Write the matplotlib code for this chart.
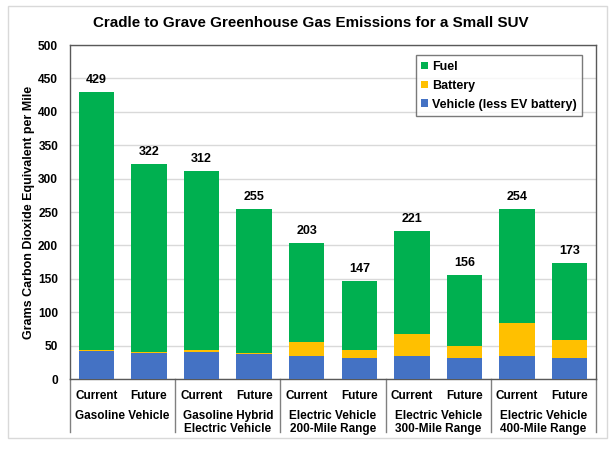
import matplotlib.pyplot as plt
import matplotlib.transforms as mtransforms
from matplotlib.patches import Rectangle

plt.rcParams['font.family'] = ['Liberation Sans', 'DejaVu Sans']
plt.rcParams['font.weight'] = 'bold'

scenarios = ['Current', 'Future'] * 5
groups = ['Gasoline Vehicle', 'Gasoline Hybrid\nElectric Vehicle',
          'Electric Vehicle\n200-Mile Range', 'Electric Vehicle\n300-Mile Range',
          'Electric Vehicle\n400-Mile Range']
vehicle = [42, 39, 41, 37, 34, 31, 34, 31, 34, 31]
battery = [1, 1, 2, 2, 22, 12, 33, 19, 50, 27]
totals = [429, 322, 312, 255, 203, 147, 221, 156, 254, 173]
fuel = [t - v - b for t, v, b in zip(totals, vehicle, battery)]

c_fuel = '#00B050'
c_batt = '#FFC000'
c_veh = '#4472C4'

fig = plt.figure(figsize=(6.16, 4.53), dpi=100)
fig.patches.append(Rectangle((8 / 616, 1 - 438 / 453), 599 / 616, 432 / 453,
                             transform=fig.transFigure, fill=False,
                             edgecolor='#D9D9D9', linewidth=1))
ax = fig.add_axes([70 / 616, 1 - 379 / 453, 526 / 616, 334 / 453])

x = list(range(len(scenarios)))
w = 0.67
bottom2 = [v + b for v, b in zip(vehicle, battery)]
ax.bar(x, vehicle, w, color=c_veh, label='Vehicle (less EV battery)', zorder=3)
ax.bar(x, battery, w, bottom=vehicle, color=c_batt, label='Battery', zorder=3)
ax.bar(x, fuel, w, bottom=bottom2, color=c_fuel, label='Fuel', zorder=3)

for xi, t in zip(x, totals):
    ax.text(xi, t + 9, str(t), ha='center', va='bottom', fontsize=9, fontweight='bold')

ax.set_xlim(-0.5, len(x) - 0.5)
ax.set_ylim(0, 500)
ax.set_yticks(range(0, 501, 50))
ax.yaxis.grid(True, color='#D9D9D9', linewidth=1, zorder=0)
ax.set_axisbelow(True)
ax.tick_params(axis='y', length=0, labelsize=8.6, pad=8.5)
ax.set_xticks(x)
ax.set_xticklabels(scenarios, fontsize=8.5, fontweight='bold')
ax.tick_params(axis='x', length=0, pad=8)
for s in ax.spines.values():
    s.set_color('#595959')
    s.set_linewidth(1)

ax.set_ylabel('Grams Carbon Dioxide Equivalent per Mile', fontsize=9,
              fontweight='bold', labelpad=2)

trans = mtransforms.blended_transform_factory(ax.transData, ax.transAxes)
for k in range(6):
    xs = 2 * k - 0.5
    ax.plot([xs, xs], [0, -0.16], transform=trans, color='#808080',
            linewidth=1, clip_on=False)
for k, g in enumerate(groups):
    ax.text(2 * k + 0.5, -0.092, g, transform=trans, ha='center', va='top',
            fontsize=8.5, fontweight='bold', linespacing=1.1)

handles, labels = ax.get_legend_handles_labels()
leg = ax.legend(handles[::-1], labels[::-1], loc='upper right',
                bbox_to_anchor=(0.986, 0.988), fontsize=9, frameon=True,
                fancybox=False, handlelength=0.55, handleheight=0.55,
                handletextpad=0.3, borderpad=0.45, labelspacing=0.55)
leg.get_frame().set_edgecolor('#595959')
leg.get_frame().set_linewidth(1)

fig.text(311 / 616, 1 - 23 / 453, 'Cradle to Grave Greenhouse Gas Emissions for a Small SUV',
         ha='center', va='center', fontsize=10.9, fontweight='bold')

fig.savefig('out.png', dpi=100)
